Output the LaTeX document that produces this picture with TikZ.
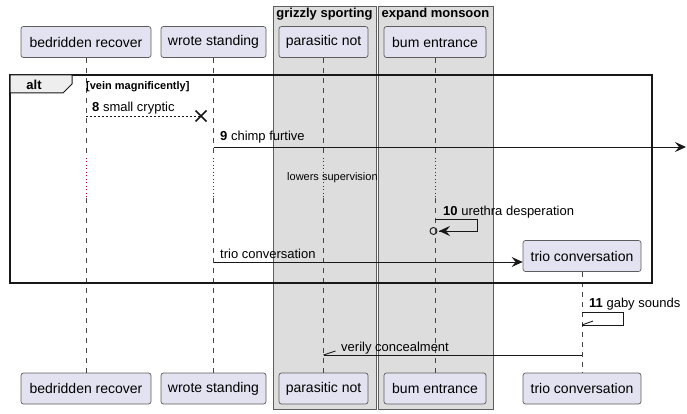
\documentclass[tikz,border=0pt]{standalone}
\usepackage{fontspec}
\setmainfont{Liberation Sans}
\usetikzlibrary{arrows.meta}
\definecolor{partfill}{HTML}{E2E2F0}
\definecolor{boxfill}{HTML}{DDDDDD}
\definecolor{tabfill}{HTML}{EEEEEE}
\definecolor{ink}{HTML}{181818}
\definecolor{delayred}{HTML}{A80036}
\tikzset{
  part/.style={draw=ink!70, line width=0.7pt, fill=partfill, rounded corners=2.5pt,
    minimum height=31pt, inner sep=0pt, font=\fontsize{14}{16}\selectfont},
  grp/.style={draw=ink!70, line width=0.7pt, fill=boxfill},
  grptitle/.style={font=\bfseries\fontsize{13}{15}\selectfont, anchor=base, inner sep=0pt},
  life/.style={draw=ink!80, line width=0.5pt, dash pattern=on 5pt off 5pt},
  delay/.style={draw=delayred, line width=0.9pt, dash pattern=on 1pt off 2.5pt},
  msg/.style={draw=ink, line width=0.9pt},
  head/.style={-{Stealth[length=11pt,width=10pt,inset=4pt]}},
  lbl/.style={font=\fontsize{13}{15}\selectfont, anchor=base west, inner sep=0pt},
  small/.style={font=\fontsize{11}{13}\selectfont, anchor=base west, inner sep=0pt},
}
\begin{document}
\begin{tikzpicture}[x=1pt,y=-1pt]
\useasboundingbox (0,0) rectangle (687,414);
% group boxes
\node[grp, minimum width=103pt, minimum height=403pt, inner sep=0pt, anchor=north west] (gs) at (273,6) {};
\node[grp, minimum width=115pt, minimum height=403pt, inner sep=0pt, anchor=north west] (em) at (378,6) {};
\node[grptitle] (gst) at (324.5,18) {grizzly sporting};
\node[grptitle] (emt) at (435.5,18) {expand monsoon};
% participants
\node[part, minimum width=130pt] (br) at (86,42) {bedridden recover};
\node[part, minimum width=105pt] (ws) at (213.5,42) {wrote standing};
\node[part, minimum width=89pt] (pn) at (323.5,42) {parasitic not};
\node[part, minimum width=102pt] (be) at (435,42) {bum entrance};
\node[part, minimum width=130pt] (brb) at (86,388.5) {bedridden recover};
\node[part, minimum width=105pt] (wsb) at (213.5,388.5) {wrote standing};
\node[part, minimum width=89pt] (pnb) at (323.5,388.5) {parasitic not};
\node[part, minimum width=102pt] (beb) at (435,388.5) {bum entrance};
\node[part, minimum width=118pt] (tcb) at (582,388.5) {trio conversation};
% lifelines with delay
\foreach \t/\b in {br/brb, ws/wsb, pn/pnb, be/beb}{
  \coordinate (\t d1) at ([yshift=-100pt]\t.south);
  \coordinate (\t d2) at ([yshift=-140pt]\t.south);
  \draw[life] (\t.south) -- (\t d1);
  \draw[delay] (\t d1) -- (\t d2);
  \draw[life] (\t d2) -- (\b.north);
}
\node[small] (dl) at (287,180) {lowers supervision};
% created participant
\node[part, minimum width=118pt] (tc) at (582,256) {trio conversation};
\draw[life] (tc.south) -- (tcb.north);
% alt frame
\draw[line width=1.5pt, draw=ink] (10,75) rectangle (652,283);
\draw[fill=tabfill, draw=ink, line width=1pt] (10,75) -- (72,75) -- (72,84) -- (63,93) -- (10,93) -- cycle;
\node[font=\bfseries\fontsize{13}{15}\selectfont, anchor=base, inner sep=0pt] (altl) at (34,90) {alt};
\node[font=\bfseries\fontsize{11}{13}\selectfont, anchor=base west, inner sep=0pt] (cond) at (86,90) {[vein magnificently]};
% message 8
\coordinate (m8a) at (br.south |- 0,116);
\coordinate (m8b) at (201,116);
\draw[msg, dash pattern=on 2pt off 2pt] (m8a) -- (m8b);
\draw[draw=ink, line width=1.6pt] ([shift={(-5.5,-5.5)}]m8b) -- ([shift={(5.5,5.5)}]m8b)
  ([shift={(-5.5,5.5)}]m8b) -- ([shift={(5.5,-5.5)}]m8b);
\node[lbl] (t8) at (92,112) {\textbf{8} small cryptic};
% message 9
\coordinate (m9a) at (ws.south |- 0,147);
\coordinate (m9b) at (686,147);
\draw[msg, head] (m9a) -- (m9b);
\node[lbl] (t9) at (220,141) {\textbf{9} chimp furtive};
% message 10
\coordinate (m10a) at (be.south |- 0,219);
\coordinate (m10b) at (439,231);
\coordinate (m10c) at (433.5,231);
\draw[msg] (m10a) -- (477,219) -- (477,231) -- (m10b);
\draw[msg, head] (470,231) -- (m10b);
\draw[draw=ink, line width=0.9pt] (m10c) circle (3.5pt);
\node[lbl] (t10) at (443,215) {\textbf{10} urethra desperation};
% create trio conversation
\coordinate (mta) at (ws.south |- 0,262);
\coordinate (mtb) at (tc.west |- 0,262);
\draw[msg, head] (mta) -- (mtb);
\node[lbl] (tt) at (220,258) {trio conversation};
% message 11
\coordinate (m11a) at (tc.south |- 0,312);
\coordinate (m11b) at (tc.south |- 0,325);
\draw[msg] (m11a) -- (623,312) -- (623,325) -- (m11b);
\draw[msg] (m11b) -- ++(11,-4);
\node[lbl] (t11) at (589,307) {\textbf{11} gaby sounds};
% verily concealment
\coordinate (mva) at (tc.south |- 0,355);
\coordinate (mvb) at (pn.south |- 0,355);
\draw[msg] (mva) -- (mvb);
\draw[msg] (mvb) -- ++(12,-4);
\node[lbl] (tv) at (341,351) {verily concealment};
\end{tikzpicture}
\end{document}
